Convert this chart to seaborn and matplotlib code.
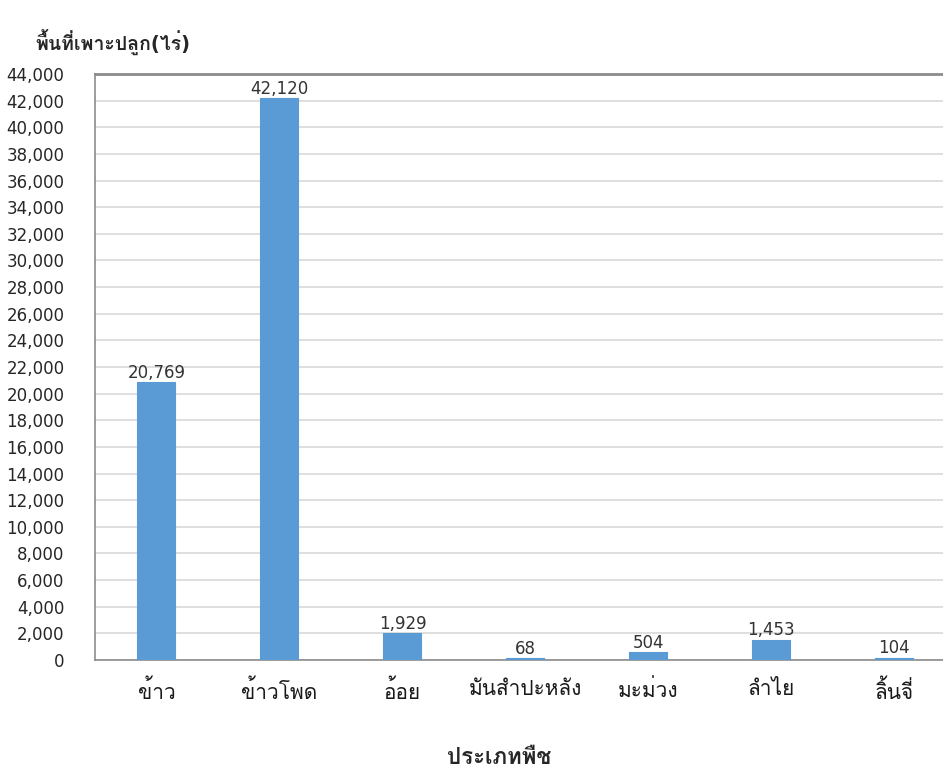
import matplotlib
matplotlib.use('Agg')
from matplotlib import pyplot as plt
from matplotlib.ticker import MultipleLocator, StrMethodFormatter
import seaborn as sns
import pandas

sns.set_style('white')
plt.rcParams['font.family'] = ['DejaVu Sans', 'Loma']

# Planted area by crop type [units: rai]
crops = ['ข้าว', 'ข้าวโพด', 'อ้อย', 'มันสำปะหลัง', 'มะม่วง', 'ลำไย', 'ลิ้นจี่']
area = [20769, 42120, 1929, 68, 504, 1453, 104]

data = pandas.DataFrame({'crop': crops, 'area': area})

fig = plt.figure(figsize=(9.43, 7.69), dpi=100)
ax = fig.add_axes([0.1007, 0.1417, 0.913, 0.7621])

# thin edge in the bar colour so that the tiny values still show up
sns.barplot(data=data, x='crop', y='area', color='#5B9BD5', width=0.30,
            saturation=1, linewidth=1.5, edgecolor='#5B9BD5', ax=ax, zorder=3)

ax.set_ylim(0, 44000)
ax.set_xlim(-0.5, len(crops) - 0.5)
ax.yaxis.set_major_locator(MultipleLocator(2000))
ax.yaxis.set_major_formatter(StrMethodFormatter('{x:,.0f}'))
ax.grid(axis='y', color='#d9d9d9', linewidth=1.2, zorder=0)

for side in ['left', 'bottom']:
    ax.spines[side].set_color('#8c8c8c')
    ax.spines[side].set_linewidth(1.2)
ax.spines['top'].set_color('#8c8c8c')
ax.spines['top'].set_linewidth(2)
ax.spines['right'].set_visible(False)

ax.tick_params(axis='y', length=0, pad=22, labelsize=12, labelcolor='#262626')
ax.tick_params(axis='x', length=0, pad=14, labelsize=15, labelcolor='#1a1a1a')

for c in ax.containers:
    ax.bar_label(c, labels=['{:,}'.format(v) for v in area], padding=1,
                 fontsize=12, color='#333333')

ax.set_xlabel('ประเภทพืช', fontsize=16, fontweight='bold', va='center')
ax.xaxis.set_label_coords(0.470, -0.168)
ax.set_ylabel('')
fig.text(0.037, 0.945, 'พื้นที่เพาะปลูก(ไร่)', fontsize=14, fontweight='bold',
         va='center', ha='left')

plt.savefig('out.png')
